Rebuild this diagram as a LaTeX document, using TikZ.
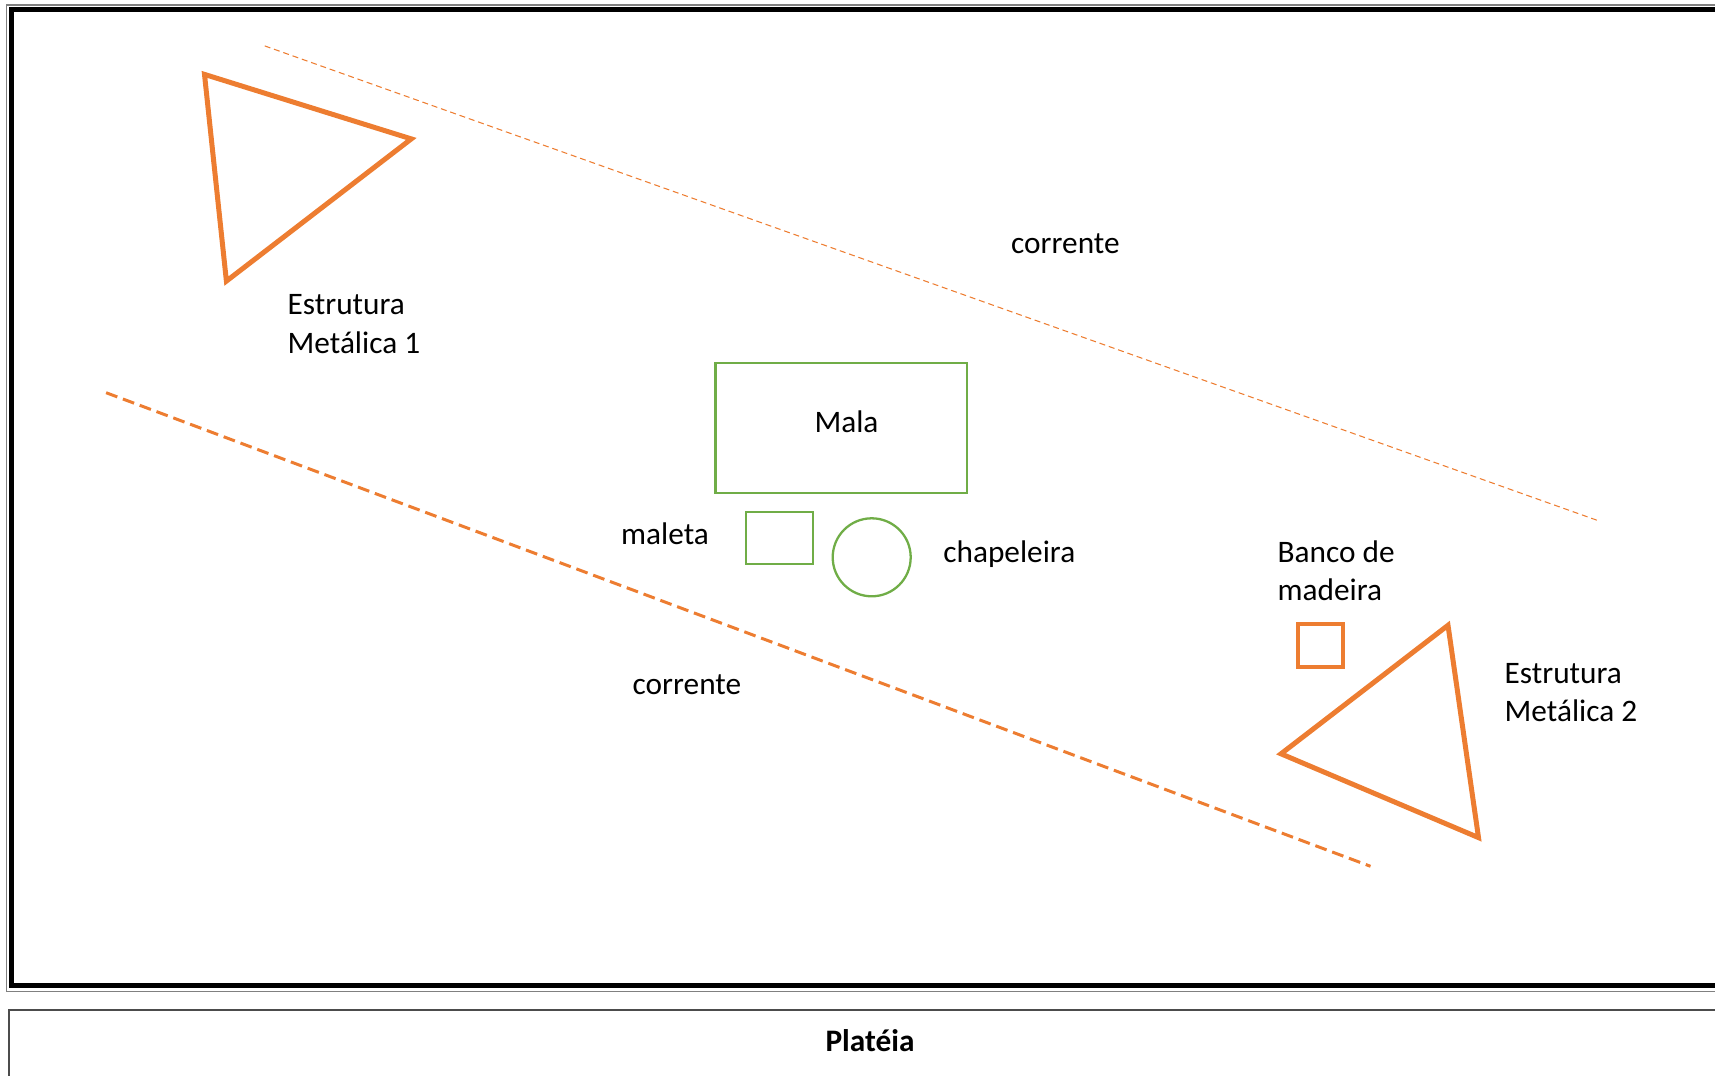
\documentclass[tikz,border=0pt]{standalone}
\usepackage{fontspec}
\setmainfont{Carlito}
\usetikzlibrary{positioning}
\definecolor{laranja}{HTML}{ED7D31}
\definecolor{verde}{HTML}{70AD47}
\tikzstyle{estrutura}=[draw=laranja,line width=1.42pt,line join=miter]
\tikzstyle{objeto}=[draw=verde,line width=0.65pt]
\tikzstyle{correntefina}=[draw=laranja,line width=0.3pt,dash pattern=on 1.7pt off 1.1pt]
\tikzstyle{correntegrossa}=[draw=laranja,line width=0.85pt,dash pattern=on 3.4pt off 1.7pt]
\tikzstyle{every node}=[font=\fontsize{8.9}{10.9}\selectfont,inner sep=0pt]
\tikzstyle{rotulo}=[anchor=west,align=left]

\begin{document}
\begin{tikzpicture}[x=0.01cm,y=-0.01cm]
    \useasboundingbox (0,0) rectangle (1715,1076);
    \clip (0,0) rectangle (1715,1076);
    % moldura do palco
    \draw[gray,line width=0.4pt] (6.5,5) rectangle (1740,991.5);
    \draw[black,line width=1.42pt] (11.5,9.8) rectangle (1740,985);
    % plateia
    \draw[black!70,line width=0.6pt] (1740,1010) -- (8.7,1010) -- (8.7,1100);
    \node[font=\fontsize{8.9}{10.9}\selectfont\bfseries] (plateia) at (870,1041) {Platéia};
    % correntes
    \draw[correntefina] (264.7,45.9) -- (1598,520.6);
    \draw[correntegrossa] (106.1,392.7) -- (1370.5,866.3);
    \node (c1) at (1065.4,243.9) {corrente};
    \node (c2) at (686.9,684.7) {corrente};
    % estruturas
    \draw[estrutura] (204.5,74.4) -- (411.3,138.9) -- (226.4,281.1) -- cycle;
    \node[rotulo] (e1) at (287,324) {Estrutura\\Metálica 1};
    \draw[estrutura] (1448,625.3) -- (1281,753.8) -- (1478.5,837.6) -- cycle;
    \node[rotulo] (e2) at (1504,692.5) {Estrutura\\Metálica 2};
    % objetos
    \draw[objeto] (715.5,363.2) rectangle (967.3,493.3);
    \node (mala) at (846.5,421.7) {Mala};
    \draw[objeto] (746,511.7) rectangle (813.3,564);
    \node (maleta) at (665,533.3) {maleta};
    \draw[objeto] (871.7,557.3) circle (39);
    \node (chap) at (1009.3,554) {chapeleira};
    \draw[estrutura,line width=1.13pt] (1298.3,624.3) rectangle (1342.7,667.3);
    \node[rotulo] (banco) at (1277,570.5) {Banco de\\madeira};
\end{tikzpicture}
\end{document}
